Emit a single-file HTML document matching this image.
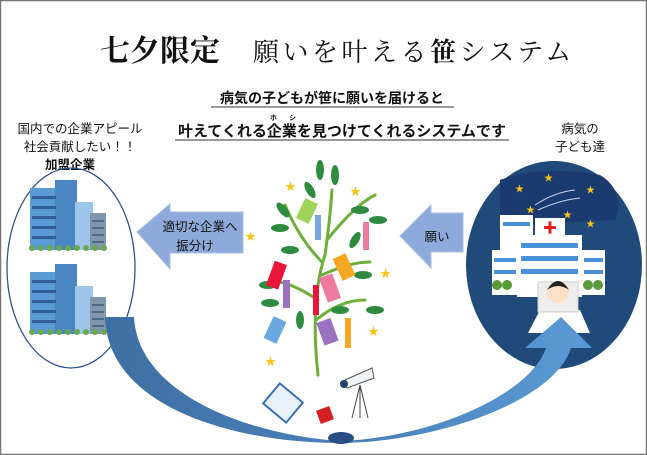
<!DOCTYPE html>
<html><head><meta charset="utf-8">
<style>
body{margin:0;width:647px;height:455px;overflow:hidden;background:#fff;}
svg{display:block}
text{font-family:"Liberation Sans","Noto Sans CJK JP",sans-serif;}
</style></head><body>
<svg width="647" height="455" viewBox="0 0 647 455" xmlns="http://www.w3.org/2000/svg">
<defs>
<linearGradient id="cg" x1="0" x2="1" y1="0" y2="0">
<stop offset="0" stop-color="#3e6fa3"/><stop offset="0.5" stop-color="#4a7fb8"/><stop offset="1" stop-color="#5b9bd5"/>
</linearGradient>
<g id="bld">
<rect x="0" y="8" width="30" height="62" fill="#5b9bd5"/>
<rect x="25" y="0" width="22" height="70" fill="#4a86c4"/>
<rect x="45" y="22" width="18" height="48" fill="#9ec6ea"/>
<rect x="60" y="33" width="16" height="37" fill="#7f96ad"/>
<g fill="#2e5f96"><rect x="2" y="16" width="24" height="3"/><rect x="2" y="26" width="24" height="3"/><rect x="2" y="36" width="24" height="3"/><rect x="2" y="46" width="24" height="3"/><rect x="2" y="56" width="24" height="3"/></g>
<g fill="#4d6a88"><rect x="62" y="40" width="12" height="2"/><rect x="62" y="47" width="12" height="2"/><rect x="62" y="54" width="12" height="2"/><rect x="62" y="61" width="12" height="2"/></g>
<g fill="#6aa84f"><circle cx="2" cy="68" r="3"/><circle cx="11" cy="68" r="3"/><circle cx="20" cy="68" r="3"/><circle cx="29" cy="68" r="3"/><circle cx="38" cy="68" r="3"/><circle cx="47" cy="68" r="3"/><circle cx="56" cy="68" r="3"/><circle cx="65" cy="68" r="3"/><circle cx="74" cy="68" r="3"/></g>
</g>
</defs>
<rect x="0.5" y="0.5" width="646" height="454" fill="#fff" stroke="#777" stroke-width="1.5"/>
<text x="100" y="61" font-size="30" font-weight="bold" fill="#111" style="font-family:'Noto Serif CJK SC','Liberation Serif',serif">七夕限定</text>
<text x="253" y="61" font-size="26" letter-spacing="3.5" fill="#111" style="font-family:'Noto Serif CJK SC','Liberation Serif',serif">願いを叶える<tspan font-weight="bold">笹</tspan>システム</text>
<text x="332" y="103" font-size="14" font-weight="bold" text-anchor="middle" fill="#111">病気の子どもが笹に願いを届けると</text>
<line x1="211" y1="107" x2="454" y2="107" stroke="#333" stroke-width="1"/>
<text x="342" y="136" font-size="15" font-weight="bold" text-anchor="middle" fill="#111">叶えてくれる企業を見つけてくれるシステムです</text>
<text x="270" y="120" font-size="7" font-weight="bold" fill="#111">ホ</text><text x="289" y="120" font-size="7" font-weight="bold" fill="#111">シ</text>
<line x1="175" y1="140" x2="509" y2="140" stroke="#333" stroke-width="1"/>
<text x="80" y="133" font-size="12.5" text-anchor="middle" fill="#111">国内での企業アピール</text>
<text x="80" y="151" font-size="12.5" text-anchor="middle" fill="#111">社会貢献したい！！</text>
<text x="70" y="169" font-size="12.5" font-weight="bold" text-anchor="middle" fill="#111">加盟企業</text>
<text x="580" y="133" font-size="12.5" text-anchor="middle" fill="#111">病気の</text>
<text x="580" y="151" font-size="12.5" text-anchor="middle" fill="#111">子ども達</text>
<ellipse cx="71" cy="268" rx="64" ry="100" fill="none" stroke="#2f5487" stroke-width="1.3"/>
<use href="#bld" x="30" y="180"/>
<use href="#bld" x="30" y="264"/>
<!-- left arrow -->
<polygon points="137,232 170,204 170,212 243,212 243,253 170,253 170,269" fill="#8eaadb" stroke="#a9bde0" stroke-width="1"/>
<text x="200" y="231" font-size="12.5" text-anchor="middle" fill="#111">適切な企業へ</text>
<text x="195" y="250" font-size="12.5" text-anchor="middle" fill="#111">振分け</text>
<!-- right arrow -->
<polygon points="400,236 431,205 431,213 463,213 463,252 431,252 431,268" fill="#8eaadb" stroke="#a9bde0" stroke-width="1"/>
<text x="437" y="241" font-size="12.5" text-anchor="middle" fill="#111">願い</text>
<!-- right circle -->
<ellipse cx="554" cy="265" rx="88" ry="104" fill="#1f4a7a"/>
<path d="M500,180 Q540,165 600,175 Q625,190 615,220 L500,225 Z" fill="#1a3a70"/>
<g fill="#f5c518" font-size="9"><text x="515" y="192">★</text><text x="544" y="181">★</text><text x="586" y="193">★</text><text x="526" y="213">★</text><text x="563" y="218">★</text><text x="586" y="227">★</text></g>
<g stroke="#c8d6ee" stroke-width="1" fill="none"><path d="M535,205 Q555,192 575,190"/><path d="M538,210 Q560,200 580,198"/></g>
<rect x="500" y="215" width="33" height="80" fill="#fff"/>
<rect x="535" y="218" width="30" height="17" fill="#fff"/>
<text x="543" y="233" font-size="14" fill="#e02020" font-weight="bold">✚</text>
<rect x="517" y="235" width="65" height="62" fill="#fff"/>
<rect x="492" y="250" width="27" height="45" fill="#fff"/><rect x="582" y="250" width="23" height="45" fill="#fff"/>
<g fill="#4a90d9"><rect x="503" y="222" width="27" height="4"/><rect x="521" y="243" width="57" height="5"/><rect x="521" y="256" width="57" height="5"/><rect x="521" y="269" width="57" height="5"/><rect x="494" y="258" width="22" height="4"/><rect x="494" y="270" width="22" height="4"/><rect x="584" y="258" width="19" height="4"/><rect x="584" y="270" width="19" height="4"/></g>
<g fill="#5a9a3a"><circle cx="497" cy="285" r="5"/><circle cx="507" cy="285" r="5"/><circle cx="588" cy="285" r="5"/><circle cx="598" cy="285" r="5"/></g>
<path d="M540,310 L580,310 L590,333 L528,333 Z" fill="#fff"/>
<rect x="538" y="282" width="40" height="30" fill="#eee" stroke="#ccc"/>
<circle cx="558" cy="292" r="11" fill="#ffe0c8"/>
<path d="M547,290 Q558,272 569,290 Q558,282 547,290Z" fill="#222"/>
<!-- curved arrow -->
<path d="M105,317 L134,317 C138,395 250,435 340,441 C430,438 530,395 546,348 L525,348 L561,317 L592,348 L571,348 C555,400 440,442 340,443 C240,443 108,410 105,317 Z" fill="url(#cg)"/>
<!-- tree -->
<g stroke="#6fae3a" stroke-width="3" fill="none" stroke-linecap="round">
<path d="M318,375 Q310,300 325,255 Q330,220 332,190"/>
<path d="M322,262 Q300,240 285,205"/>
<path d="M327,240 Q355,205 375,195"/>
<path d="M318,300 Q295,285 280,282"/>
<path d="M322,275 Q350,262 370,262"/>
<path d="M316,320 Q340,300 365,300"/>
</g>
<g fill="#2e8b3f">
<ellipse cx="320" cy="170" rx="4" ry="10"/><ellipse cx="335" cy="175" rx="4" ry="10"/><ellipse cx="310" cy="190" rx="4" ry="9" transform="rotate(-30 310 190)"/>
<ellipse cx="283" cy="210" rx="4" ry="9" transform="rotate(-40 283 210)"/><ellipse cx="280" cy="228" rx="9" ry="4"/><ellipse cx="360" cy="210" rx="9" ry="4"/>
<ellipse cx="378" cy="220" rx="9" ry="4"/><ellipse cx="355" cy="240" rx="4" ry="9" transform="rotate(30 355 240)"/><ellipse cx="290" cy="250" rx="9" ry="4"/>
<ellipse cx="268" cy="285" rx="9" ry="4"/><ellipse cx="270" cy="303" rx="9" ry="4"/><ellipse cx="363" cy="275" rx="9" ry="4"/>
<ellipse cx="375" cy="310" rx="9" ry="4"/><ellipse cx="300" cy="320" rx="4" ry="9"/><ellipse cx="340" cy="310" rx="9" ry="4"/>
</g>
<rect x="300" y="200" width="14" height="22" fill="#9fd35a" transform="rotate(25 307 211)"/>
<rect x="337" y="255" width="14" height="24" fill="#f5a623" transform="rotate(-25 344 267)"/>
<rect x="270" y="262" width="13" height="26" fill="#e8163a" transform="rotate(20 276 275)"/>
<rect x="323" y="275" width="14" height="26" fill="#ef7aa0" transform="rotate(-20 330 288)"/>
<rect x="268" y="318" width="14" height="24" fill="#6aa6e0" transform="rotate(25 275 330)"/>
<rect x="320" y="320" width="15" height="24" fill="#9b72c0" transform="rotate(-20 327 332)"/>
<rect x="315" y="215" width="6" height="25" fill="#7aa6e0"/>
<rect x="363" y="222" width="6" height="28" fill="#ef7aa0"/>
<rect x="283" y="280" width="7" height="28" fill="#9b72c0"/>
<rect x="313" y="285" width="6" height="30" fill="#e8163a"/>
<rect x="345" y="318" width="6" height="30" fill="#f5a623"/>
<g fill="#f5c518" font-size="11"><text x="285" y="190">★</text><text x="350" y="195">★</text><text x="245" y="240">★</text><text x="380" y="277">★</text><text x="368" y="335">★</text><text x="265" y="365">★</text></g>
<!-- items -->
<rect x="268" y="390" width="30" height="26" fill="#e8f0fa" stroke="#3a6fb0" stroke-width="2" transform="rotate(40 283 403)"/>
<rect x="318" y="408" width="14" height="14" fill="#d62020" transform="rotate(-20 325 415)"/>
<ellipse cx="341" cy="438" rx="13" ry="6" fill="#2a4f85"/>
<path d="M345,380 L372,368 L374,378 L347,388 Z" fill="#f0f4f8" stroke="#555"/>
<circle cx="344" cy="384" r="4" fill="#24406c"/>
<g stroke="#444"><line x1="360" y1="385" x2="352" y2="418"/><line x1="360" y1="385" x2="368" y2="418"/><line x1="360" y1="385" x2="360" y2="418"/></g>
</svg>
</body></html>
